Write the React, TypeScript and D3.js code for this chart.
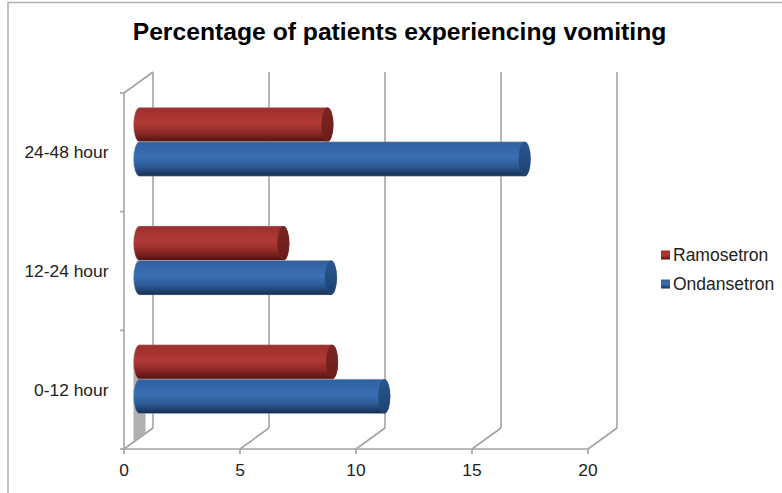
import React from "react";
import { scaleBand, scaleLinear } from "d3";

const categories = ["24-48 hour", "12-24 hour", "0-12 hour"];
const ramosetron = [8.1, 6.2, 8.3];
const ondansetron = [16.6, 8.25, 10.55];
const xTicks = [0, 5, 10, 15, 20];
const title = "Percentage of patients experiencing vomiting";

const W = 782;
const H = 493;
const front = { left: 124, right: 588, top: 93, bottom: 449 };
const depth = { dx: 29, dy: -21 };
const barDepthX = 15.5;
const barDepthY = -10.5;
const barHeight = 34.4;
const capRx = 6;

const x = scaleLinear().domain([0, 20]).range([front.left, front.right]);
const y = scaleBand<string>().domain(categories).range([front.top, front.bottom]);

const seriesList = [
  { name: "Ramosetron", values: ramosetron, grad: "gradRed", cap: "capRed", offset: -1 },
  { name: "Ondansetron", values: ondansetron, grad: "gradBlue", cap: "capBlue", offset: 0 },
];

const gridColor = "#a3a3a3";
const textColor = "#222222";
const font = "'Liberation Sans', Arial, sans-serif";

// One horizontal cylinder: a body with a rounded base and an end-cap ellipse.
function Cylinder({ value, top, grad, cap }: { value: number; top: number; grad: string; cap: string }) {
  const x0 = x(0) + barDepthX;
  const x1 = x(value) + barDepthX;
  const ry = barHeight / 2;
  const bottom = top + barHeight;
  const d = `M${x0},${top} L${x1},${top} A${capRx},${ry} 0 0 1 ${x1},${bottom} L${x0},${bottom} A${capRx},${ry} 0 0 1 ${x0},${top} Z`;
  return (
    <g>
      <path d={d} fill={`url(#${grad})`} stroke="#bdbdbd" strokeOpacity={0.5} strokeWidth={0.8} />
      <ellipse cx={x1} cy={top + ry} rx={capRx} ry={ry} fill={`url(#${cap})`} />
    </g>
  );
}

function Gradient({ id, stops }: { id: string; stops: [number, string][] }) {
  return (
    <linearGradient id={id} x1="0" y1="0" x2="0" y2="1">
      {stops.map(([o, c]) => (
        <stop key={o} offset={o} stopColor={c} />
      ))}
    </linearGradient>
  );
}

export default function App() {
  const zeroBack = x(0) + depth.dx;
  const floorBack = front.bottom + depth.dy;
  const wallTop = front.top + depth.dy;
  const legendY = [255, 284];

  return (
    <svg
      width={W}
      height={H}
      viewBox={`0 0 ${W} ${H}`}
      style={{ position: "absolute", left: 0, top: 0, display: "block", background: "#fff" }}
      fontFamily={font}
    >
      <defs>
        <Gradient id="gradRed" stops={[[0, "#9c2f2c"], [0.45, "#b03a36"], [0.72, "#8e2a27"], [1, "#551110"]]} />
        <Gradient id="gradBlue" stops={[[0, "#2f619f"], [0.45, "#3a6fb4"], [0.72, "#2d5a94"], [1, "#142f50"]]} />
        <Gradient id="capRed" stops={[[0, "#7c2523"], [1, "#6c1c1a"]]} />
        <Gradient id="capBlue" stops={[[0, "#2a5690"], [1, "#1d4272"]]} />
      </defs>

      {/* Chart frame */}
      <path d={`M8,493 V2.5 H${W}`} fill="none" stroke="#b0b0b0" strokeWidth={1.5} />

      <text x={399.5} y={40} textAnchor="middle" fontSize={24.7} fontWeight={700} fill="#000">
        {title}
      </text>

      {/* Back wall gridlines and floor diagonals */}
      {xTicks.map((t) => (
        <g key={t} fill="none" stroke={gridColor} strokeWidth={1.6}>
          <line x1={x(t) + depth.dx} x2={x(t) + depth.dx} y1={wallTop} y2={floorBack} />
          <line x1={x(t)} x2={x(t) + depth.dx} y1={front.bottom} y2={floorBack} />
          <line x1={x(t)} x2={x(t)} y1={front.bottom} y2={front.bottom + 5} />
        </g>
      ))}
      <g fill="none" stroke={gridColor} strokeWidth={1.6}>
        <line x1={x(0)} x2={zeroBack} y1={front.top} y2={wallTop} />
        <line x1={x(0)} x2={x(0)} y1={front.top} y2={front.bottom} />
        <line x1={x(0)} x2={x(20)} y1={front.bottom} y2={front.bottom} />
        {categories.map((c) => (
          <line key={c} x1={x(0) - 4} x2={x(0)} y1={y(c)!} y2={y(c)!} />
        ))}
        <line x1={x(0) - 4} x2={x(0)} y1={front.bottom} y2={front.bottom} />
      </g>

      {/* Shadow of the lowest bar on the side wall */}
      <path
        d={`M${x(0) + 9.5},${y(categories[2])! + 30} h12 V${front.bottom - 16} L${x(0) + 9.5},${front.bottom - 8} Z`}
        fill="#b0b0b0"
      />

      {categories.map((c, i) => {
        const mid = y(c)! + y.bandwidth() / 2 + barDepthY;
        return (
          <g key={c}>
            {seriesList.map((s) => (
              <Cylinder
                key={s.name}
                value={s.values[i]}
                top={mid + s.offset * barHeight}
                grad={s.grad}
                cap={s.cap}
              />
            ))}
          </g>
        );
      })}

      {/* Axis labels */}
      {categories.map((c) => (
        <text
          key={c}
          x={108.5}
          y={y(c)! + y.bandwidth() / 2 + 6}
          textAnchor="end"
          fontSize={17.4}
          fill={textColor}
        >
          {c}
        </text>
      ))}
      {xTicks.map((t) => (
        <text key={t} x={x(t)} y={476} textAnchor="middle" fontSize={17.4} fill={textColor}>
          {t}
        </text>
      ))}

      {/* Legend */}
      {seriesList.map((s, i) => (
        <g key={s.name}>
          <rect x={661} y={legendY[i] - 4.5} width={9} height={9} fill={`url(#${s.grad})`} />
          <text x={673} y={legendY[i] + 6} fontSize={17.5} fill={textColor}>
            {s.name}
          </text>
        </g>
      ))}
    </svg>
  );
}
